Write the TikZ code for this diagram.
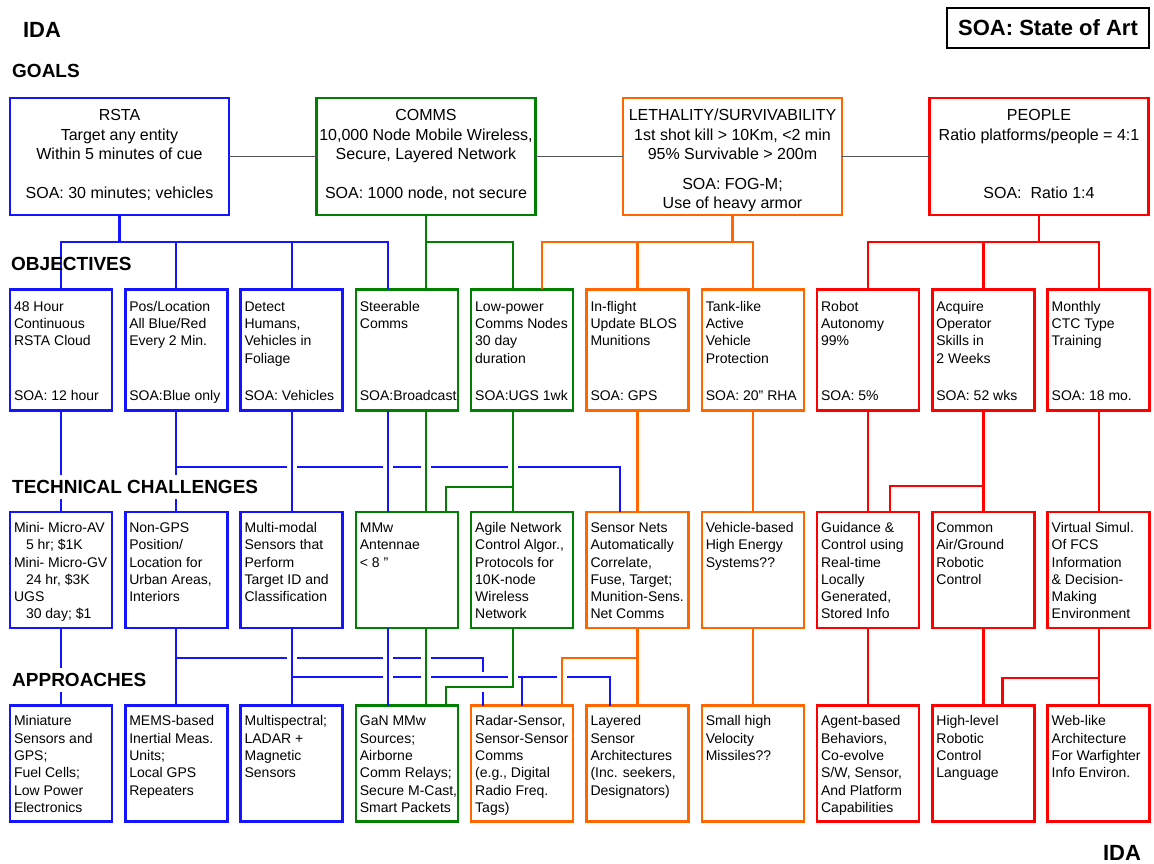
\documentclass[tikz,border=0pt]{standalone}
\usepackage{fontspec}
\setmainfont{Liberation Sans}
\usetikzlibrary{positioning}

\definecolor{idablue}{RGB}{20,20,255}
\definecolor{idagreen}{RGB}{0,128,0}
\definecolor{idaorange}{RGB}{255,102,0}
\definecolor{idared}{RGB}{255,0,0}
\definecolor{idagrey}{RGB}{85,85,85}

\newcommand{\cell}[1]{\parbox[c][106pt][t]{94pt}{\raggedright\rule{0pt}{1.1em}#1}}
\newcommand{\objcell}[2]{\parbox[c][106pt][s]{94pt}{\raggedright\rule{0pt}{1.2em}#1\par\vfill#2\strut}}
\newcommand{\goaltxt}[1]{\parbox[c][107pt][t]{215pt}{\centering\rule{0pt}{1.1em}#1}}

\tikzset{
  cell/.style={draw=#1, line width=2.5pt, outer sep=0pt, inner xsep=4pt, inner ysep=5pt, font=\fontsize{14}{17.3}\selectfont},
  goal/.style={cell=#1, inner xsep=2pt, font=\fontsize{16}{19.5}\selectfont},
  conn/.style={draw=#1, line width=2.2pt},
  bl/.style={conn=idablue},
  gr/.style={conn=idagreen},
  og/.style={conn=idaorange},
  rd/.style={conn=idared},
  gry/.style={draw=idagrey, line width=1.3pt},
  jump/.style={preaction={draw=white, line width=10pt, shorten <=4pt, shorten >=4pt}},
  head/.style={font=\fontsize{19}{22}\selectfont\bfseries, anchor=west, inner xsep=3pt, inner ysep=5.5pt},
  ida/.style={font=\fontsize{22}{26}\selectfont\bfseries}
}

\begin{document}
\begin{tikzpicture}[x=1pt, y=-1pt, node distance=13.3pt]
\useasboundingbox (0,0) rectangle (1154,863);

\node[goal=idablue] (g1) at (119.5,156.5) {\goaltxt{RSTA\\Target any entity\\Within 5 minutes of cue\\[19.5pt]SOA: 30 minutes; vehicles}};
\node[goal=idagreen, right=87.5pt of g1] (g2) {\goaltxt{COMMS\\10,000 Node Mobile Wireless,\\Secure, Layered Network\\[19.5pt]SOA: 1000 node, not secure}};
\node[goal=idaorange, right=87.5pt of g2] (g3) {\goaltxt{LETHALITY/SURVIVABILITY\\1st shot kill > 10Km, <2 min\\95\% Survivable > 200m\\[10pt]SOA: FOG-M;\\Use of heavy armor}};
\node[goal=idared, right=87.5pt of g3] (g4) {\goaltxt{PEOPLE\\Ratio platforms/people = 4:1\\[39pt]SOA:\ \ Ratio 1:4}};

\node[cell=idablue] (o1) at (61,350) {\objcell{48 Hour\\Continuous\\RSTA Cloud}{SOA: 12 hour}};
\node[cell=idablue, right=of o1] (o2) {\objcell{Pos/Location\\All Blue/Red\\Every 2 Min.}{SOA:Blue only}};
\node[cell=idablue, right=of o2] (o3) {\objcell{Detect\\Humans,\\Vehicles in\\Foliage}{SOA: Vehicles}};
\node[cell=idagreen, right=of o3] (o4) {\objcell{Steerable\\Comms}{SOA:Broadcast}};
\node[cell=idagreen, right=of o4] (o5) {\objcell{Low-power\\Comms Nodes\\30 day\\duration}{SOA:UGS 1wk}};
\node[cell=idaorange, right=of o5] (o6) {\objcell{In-flight\\Update BLOS\\Munitions}{SOA: GPS}};
\node[cell=idaorange, right=of o6] (o7) {\objcell{Tank-like\\Active\\Vehicle\\Protection}{SOA: 20” RHA}};
\node[cell=idared, right=of o7] (o8) {\objcell{Robot\\Autonomy\\99\%}{SOA: 5\%}};
\node[cell=idared, right=of o8] (o9) {\objcell{Acquire\\Operator\\Skills in\\2 Weeks}{SOA: 52 wks}};
\node[cell=idared, right=of o9] (o10) {\objcell{Monthly\\CTC Type\\Training}{SOA: 18 mo.}};

\node[cell=idablue] (t1) at (61,570) {\cell{Mini- Micro-AV\\\hspace*{12pt}5 hr; \$1K\\Mini- Micro-GV\\\hspace*{12pt}24 hr, \$3K\\UGS\\\hspace*{12pt}30 day; \$1}};
\node[cell=idablue, right=of t1] (t2) {\cell{Non-GPS\\Position/\\Location for\\Urban Areas,\\Interiors}};
\node[cell=idablue, right=of t2] (t3) {\cell{Multi-modal\\Sensors that\\Perform\\Target ID and\\Classification}};
\node[cell=idagreen, right=of t3] (t4) {\cell{MMw\\Antennae\\< 8 ”}};
\node[cell=idagreen, right=of t4] (t5) {\cell{Agile Network\\Control Algor.,\\Protocols for\\10K-node\\Wireless\\Network}};
\node[cell=idaorange, right=of t5] (t6) {\cell{Sensor Nets\\Automatically\\Correlate,\\Fuse, Target;\\Munition-Sens.\\Net Comms}};
\node[cell=idaorange, right=of t6] (t7) {\cell{Vehicle-based\\High Energy\\Systems??}};
\node[cell=idared, right=of t7] (t8) {\cell{Guidance \&\\Control using\\Real-time\\Locally\\Generated,\\Stored Info}};
\node[cell=idared, right=of t8] (t9) {\cell{Common\\Air/Ground\\Robotic\\Control}};
\node[cell=idared, right=of t9] (t10) {\cell{Virtual Simul.\\Of FCS\\Information\\\& Decision-\\Making\\Environment}};

\node[cell=idablue] (a1) at (61,763.5) {\cell{Miniature\\Sensors and\\GPS;\\Fuel Cells;\\Low Power\\Electronics}};
\node[cell=idablue, right=of a1] (a2) {\cell{MEMS-based\\Inertial Meas.\\Units;\\Local GPS\\Repeaters}};
\node[cell=idablue, right=of a2] (a3) {\cell{Multispectral;\\LADAR +\\Magnetic\\Sensors}};
\node[cell=idagreen, right=of a3] (a4) {\cell{GaN MMw\\Sources;\\Airborne\\Comm Relays;\\\mbox{Secure M-Cast,}\\Smart Packets}};
\node[cell=idaorange, right=of a4] (a5) {\cell{Radar-Sensor,\\Sensor-Sensor\\Comms\\(e.g., Digital\\Radio Freq.\\Tags)}};
\node[cell=idaorange, right=of a5] (a6) {\cell{Layered\\Sensor\\Architectures\\(Inc. seekers,\\Designators)}};
\node[cell=idaorange, right=of a6] (a7) {\cell{Small high\\Velocity\\Missiles??}};
\node[cell=idared, right=of a7] (a8) {\cell{Agent-based\\Behaviors,\\Co-evolve\\S/W, Sensor,\\And Platform\\Capabilities}};
\node[cell=idared, right=of a8] (a9) {\cell{High-level\\Robotic\\Control\\Language}};
\node[cell=idared, right=of a9] (a10) {\cell{Web-like\\Architecture\\For Warfighter\\Info Environ.}};

\coordinate (ob2) at ([yshift=-56pt]o2.south);
\coordinate (ob5) at ([xshift=-9pt,yshift=-76pt]o5.south);
\coordinate (ob9) at ([yshift=-75pt]o9.south);
\coordinate (tb2) at ([yshift=-30pt]t2.south);
\coordinate (tb3) at ([yshift=-49pt]t3.south);
\coordinate (tb5) at ([xshift=-9pt,yshift=-59pt]t5.south);
\coordinate (tb6) at ([yshift=-30pt]t6.south);
\coordinate (tb10) at ([yshift=-50pt]t10.south);

\draw[gry] (g1) -- (g2);
\draw[gry] (g2) -- (g3);
\draw[gry] (g3) -- (g4);
\draw[bl] (g1.south) -- ++(0,27) coordinate (gb1) -| (o1.north);
\draw[bl] (gb1) -| (o2.north);
\draw[bl] (gb1) -| (o3.north);
\draw[bl] (gb1) -| ([xshift=-19pt]o4.north);
\draw[gr] (g2.south) -- ++(0,27) coordinate (gb2) -| ([xshift=19pt]o4.north);
\draw[gr] (gb2) -| ([xshift=-9pt]o5.north);
\draw[og] (g3.south) -- ++(0,27) coordinate (gb3) -| ([xshift=20pt]o5.north);
\draw[og] (gb3) -| (o6.north);
\draw[og] (gb3) -| (o7.north);
\draw[rd] (g4.south) -- ++(0,27) coordinate (gb4) -| (o8.north);
\draw[rd] (gb4) -| (o9.north);
\draw[rd] (gb4) -| (o10.north);

\draw[bl] (o1) -- (t1);
\draw[bl] (o2) -- (t2);
\draw[bl] (ob2) -| ([xshift=-17.5pt]t6.north);
\draw[bl,jump] (o3) -- (t3);
\draw[bl,jump] ([xshift=-19pt]o4.south) -- ([xshift=-19pt]t4.north);
\draw[gr,jump] ([xshift=19pt]o4.south) -- ([xshift=19pt]t4.north);
\draw[gr,jump] ([xshift=-9pt]o5.south) -- ([xshift=-9pt]t5.north);
\draw[gr] (ob5) -| ([xshift=39pt]t4.north);
\draw[og] (o6) -- (t6);
\draw[og] (o7) -- (t7);
\draw[rd] (o8) -- (t8);
\draw[rd] (o9) -- (t9);
\draw[rd] (o10) -- (t10);
\draw[rd] (ob9) -| ([xshift=22pt]t8.north);

\draw[bl] (t1) -- (a1);
\draw[bl] (t2) -- (a2);
\draw[bl] (tb2) -| ([xshift=-39pt]a5.north);
\draw[bl,jump] (t3) -- (a3);
\draw[bl,jump] (tb3) -| ([xshift=-27.5pt]a6.north);
\draw[bl] (a5.north) -- (a5.north |- tb3);
\draw[bl,jump] ([xshift=-19pt]t4.south) -- ([xshift=-19pt]a4.north);
\draw[gr,jump] ([xshift=19pt]t4.south) -- ([xshift=19pt]a4.north);
\draw[gr,jump] ([xshift=-9pt]t5.south) -- (tb5) -| ([xshift=39pt]a4.north);
\draw[og] (t6) -- (a6);
\draw[og,jump] (tb6) -| ([xshift=40pt]a5.north);
\draw[og] (t7) -- (a7);
\draw[rd] (t8) -- (a8);
\draw[rd] (t9) -- (a9);
\draw[rd] (t10) -- (a10);
\draw[rd] (tb10) -| ([xshift=19pt]a9.north);

\node[ida] (ida1) at (42,30) {IDA};
\node[ida, draw, line width=1.4pt, minimum width=202pt, minimum height=40pt] (key) at (1048,28) {SOA: State of Art};
\node[head] (lgoals) at (9,71) {GOALS};
\node[head] (lobj) at (8,264) {OBJECTIVES};
\node[head, fill=white] (ltc) at (9,487) {TECHNICAL CHALLENGES};
\node[head, fill=white] (lapp) at (9,680) {APPROACHES};
\node[ida] (ida2) at (1122,853) {IDA};
\end{tikzpicture}
\end{document}
